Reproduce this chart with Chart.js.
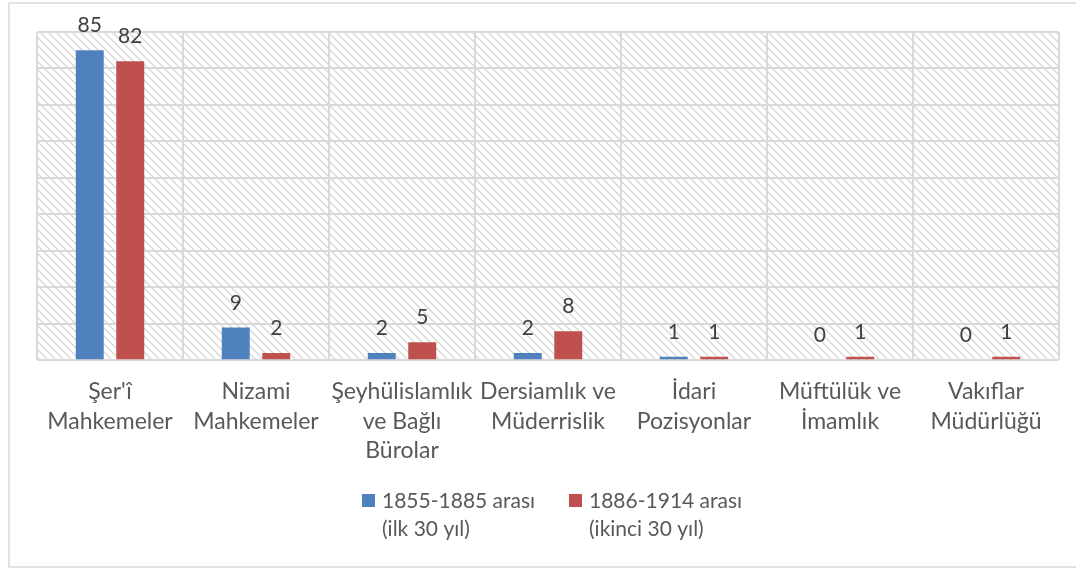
<!DOCTYPE html>
<html>
<head>
<meta charset="utf-8">
<script src="https://cdn.jsdelivr.net/npm/chart.js@4"></script>
<style>
  body { margin: 0; background: #fff; }
  #wrap { width: 1076px; height: 570px; position: relative; }
</style>
</head>
<body>
<div id="wrap"><canvas id="barChart"></canvas></div>
<script>
// data
const categories = [
    ["Şer'î", "Mahkemeler"],
    ["Nizami", "Mahkemeler"],
    ["Şeyhülislamlık", "ve Bağlı", "Bürolar"],
    ["Dersiamlık ve", "Müderrislik"],
    ["İdari", "Pozisyonlar"],
    ["Müftülük ve", "İmamlık"],
    ["Vakıflar", "Müdürlüğü"]
];
const firstPeriod = [85, 9, 2, 2, 1, 0, 0];
const secondPeriod = [82, 2, 5, 8, 1, 1, 1];
const seriesNames = [
    ["1855-1885 arası", "(ilk 30 yıl)"],
    ["1886-1914 arası", "(ikinci 30 yıl)"]
];
const seriesColors = ["#4f81bd", "#c0504d"];

const textColor = "#595959";
const gridColor = "#d9d9d9";
const fontFamily = "Lato, 'Open Sans', sans-serif";

// hatched background + outer frame
const background = {
    id: "background",
    beforeDraw(chart) {
        const ctx = chart.ctx;
        const a = chart.chartArea;
        ctx.save();
        ctx.strokeStyle = gridColor;
        ctx.lineWidth = 1.5;
        ctx.strokeRect(9, 3, 1080, 564);

        const tile = document.createElement("canvas");
        tile.width = 8;
        tile.height = 8;
        const t = tile.getContext("2d");
        t.strokeStyle = "#d6d6d6";
        t.lineWidth = 1.3;
        t.beginPath();
        t.moveTo(-1, -1); t.lineTo(9, 9);
        t.moveTo(-5, 3); t.lineTo(1, 9);
        t.moveTo(3, -5); t.lineTo(9, 1);
        t.stroke();
        ctx.fillStyle = ctx.createPattern(tile, "repeat");
        ctx.fillRect(a.left, a.top, a.right - a.left, a.bottom - a.top);
        ctx.restore();
    }
};

// value labels above the bars
const valueLabels = {
    id: "valueLabels",
    afterDatasetsDraw(chart) {
        const ctx = chart.ctx;
        ctx.save();
        ctx.font = "21px " + fontFamily;
        ctx.fillStyle = "#404040";
        ctx.textAlign = "center";
        ctx.textBaseline = "alphabetic";
        chart.data.datasets.forEach((ds, i) => {
            chart.getDatasetMeta(i).data.forEach((bar, j) => {
                ctx.fillText(ds.data[j], bar.x, bar.y - 18);
            });
        });
        ctx.restore();
    }
};

// two-line legend under the axis labels
const bottomLegend = {
    id: "bottomLegend",
    afterDraw(chart) {
        const ctx = chart.ctx;
        ctx.save();
        ctx.font = "21px " + fontFamily;
        ctx.textBaseline = "middle";
        const starts = [362, 569];
        chart.data.datasets.forEach((ds, i) => {
            const x = starts[i];
            ctx.fillStyle = ds.backgroundColor;
            ctx.fillRect(x, 494, 13, 13);
            ctx.fillStyle = textColor;
            ds.label.forEach((line, k) => {
                ctx.fillText(line, x + 20, 501 + k * 28);
            });
        });
        ctx.restore();
    }
};

const ctx = document.getElementById("barChart");

const graph = {
    type: "bar",
    data: {
        labels: categories,
        datasets: [{
            label: seriesNames[0],
            data: firstPeriod,
            backgroundColor: seriesColors[0],
            categoryPercentage: 0.555,
            barPercentage: 0.69
        }, {
            label: seriesNames[1],
            data: secondPeriod,
            backgroundColor: seriesColors[1],
            categoryPercentage: 0.555,
            barPercentage: 0.69
        }]
    },
    options: {
        responsive: true,
        maintainAspectRatio: false,
        animation: false,
        layout: {
            padding: { left: 37, right: 17, top: 32, bottom: 88 }
        },
        scales: {
            x: {
                grid: { color: gridColor, lineWidth: 2, drawTicks: false },
                border: { display: false },
                ticks: {
                    color: textColor,
                    font: { family: fontFamily, size: 23, lineHeight: 1.27 },
                    padding: 17,
                    maxRotation: 0,
                    minRotation: 0,
                    autoSkip: false
                }
            },
            y: {
                min: 0,
                max: 90,
                grid: { color: gridColor, lineWidth: 2, drawTicks: false },
                border: { display: false },
                ticks: { display: false, stepSize: 10 }
            }
        },
        plugins: {
            tooltip: { enabled: false },
            legend: { display: false }
        }
    },
    plugins: [background, valueLabels, bottomLegend]
};

window.chart = new Chart(ctx, graph);
</script>
</body>
</html>
